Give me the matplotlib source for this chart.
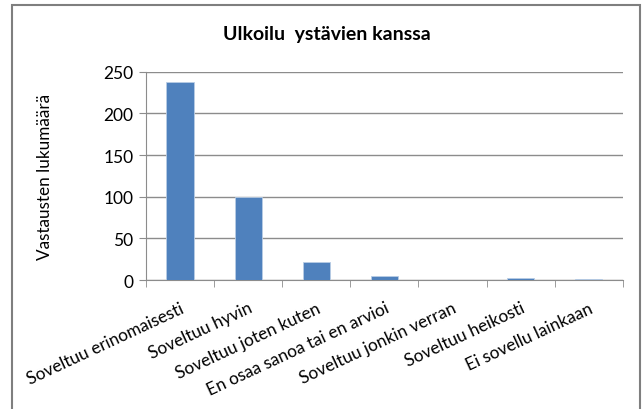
import matplotlib.pyplot as plt
from matplotlib.patches import Rectangle
import numpy as np

plt.rcParams['font.family'] = ['Lato', 'DejaVu Sans']

luokat = ["Soveltuu erinomaisesti", "Soveltuu hyvin", "Soveltuu joten kuten",
          "En osaa sanoa tai en arvioi", "Soveltuu jonkin verran",
          "Soveltuu heikosti", "Ei sovellu lainkaan"]
vastaukset = [238, 100, 22, 5, 0, 2, 1]
y_tikit = [0, 50, 100, 150, 200, 250]

fig = plt.figure(figsize=(6.44, 4.10), dpi=100)
ax = fig.add_axes([0.2267, 0.3146, 0.967 - 0.2267, 0.8227 - 0.3146])

x = np.arange(len(luokat))
ax.bar(x, vastaukset, width=0.4, color="#4F81BD", edgecolor="#B9CDE5", linewidth=0.6, zorder=3)

ax.set_xlim(-0.5, len(luokat) - 0.5)
ax.set_ylim(0, 250)
ax.set_yticks(y_tikit)
ax.yaxis.grid(True, color="#8C8C8C", linewidth=1.0, zorder=0)

# kategoriarajat pieninä tikkeinä, nimet keskelle
ax.set_xticks(x)
ax.set_xticklabels(luokat, rotation=25, ha="right", rotation_mode="anchor", fontsize=12.4)
ax.set_xticks(np.arange(len(luokat) + 1) - 0.5, minor=True)
ax.tick_params(axis="x", which="major", length=0, pad=14)
ax.tick_params(axis="x", which="minor", length=5, color="#8C8C8C")
ax.tick_params(axis="y", length=5, color="#8C8C8C", labelsize=12.5, pad=4)

for s in ["top", "right"]:
    ax.spines[s].set_visible(False)
ax.spines["left"].set_color("#8C8C8C")
ax.spines["bottom"].set_color("#8C8C8C")

ax.set_ylabel("Vastausten lukumäärä", fontsize=12.3, labelpad=36)
fig.text(0.508, 0.915, "Ulkoilu  ystävien kanssa", ha="center", va="center",
         fontsize=14, fontweight="bold")

# kaavion kehys
fig.patches.append(Rectangle((12 / 644, -0.1), (640 - 12) / 644, 1.1 - 6 / 410,
                             transform=fig.transFigure, fill=False,
                             edgecolor="#7F7F7F", linewidth=1.5))

fig.savefig("out.png", dpi=100)
